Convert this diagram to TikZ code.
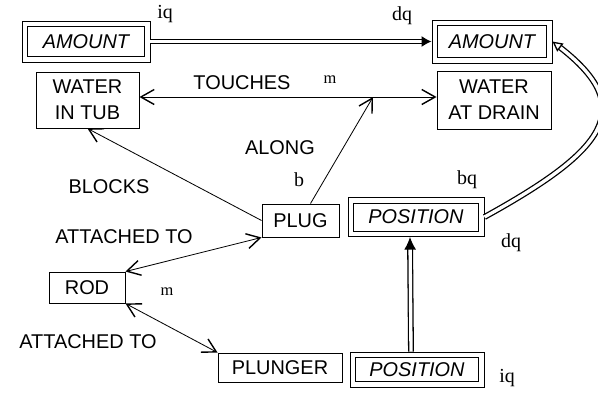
\documentclass[tikz,border=0pt]{standalone}
\usepackage{fontspec}
\setmainfont{Liberation Serif}
\setsansfont{Liberation Sans}
\usetikzlibrary{arrows.meta}

\begin{document}
\begin{tikzpicture}[
    x=0.03cm, y=-0.03cm,
    >={Straight Barb[length=0.4cm,width=0.45cm,line width=1.2pt]},
    ent/.style={rectangle, draw, line width=0.8pt, align=center, inner sep=2pt, font=\sffamily\fontsize{17}{22}\selectfont},
    qty/.style={rectangle, draw, line width=0.8pt, inner sep=2pt, font=\sffamily\itshape\fontsize{17}{22}\selectfont},
    inbox/.style={line width=0.8pt},
    rel/.style={font=\sffamily\fontsize{17}{22}\selectfont},
    tag/.style={font=\rmfamily\fontsize{17}{20}\selectfont},
    link/.style={line width=0.7pt},
    infl/.style={double, double distance=0.1cm, line width=1.1pt}
]
\useasboundingbox (0,0) rectangle (598,393);

% Quantities
\node[qty, minimum width=3.84cm, minimum height=1.23cm] (amtL) at (86,41.5) {AMOUNT};
\node[qty, minimum width=3.6cm, minimum height=1.29cm] (amtR) at (492,41.5) {AMOUNT};
\node[qty, minimum width=4.08cm, minimum height=1.17cm] (posT) at (416,217) {POSITION};
\node[qty, minimum width=4.02cm, minimum height=1.05cm] (posB) at (417,369.5) {POSITION};
\foreach \q in {amtL,amtR,posT,posB}
    \draw[inbox] ([xshift=0.19cm,yshift=0.18cm]\q.south west) rectangle ([xshift=-0.19cm,yshift=-0.18cm]\q.north east);

% Entities
\node[ent, minimum width=3.09cm, minimum height=1.68cm] (tub) at (87.5,100) {WATER\\IN TUB};
\node[ent, minimum width=3.42cm, minimum height=1.74cm] (drain) at (494,100) {WATER\\AT DRAIN};
\node[ent, minimum width=2.31cm, minimum height=0.99cm] (plug) at (300.5,220.5) {PLUG};
\node[ent, minimum width=2.28cm, minimum height=0.93cm] (rod) at (87,287.5) {ROD};
\node[ent, minimum width=3.72cm, minimum height=0.87cm] (plunger) at (280,367.5) {PLUNGER};

\coordinate (along) at (373,97);

% Relations
\draw[link, <->] (tub.east |- along) -- (drain.west |- along);
\draw[link, ->] ([xshift=0.3cm]plug.north) -- (along);
\draw[link, ->] (plug.west) -- (tub.south);
\draw[link, <->] (plug.south west) -- (rod.north east);
\draw[link, <->] (rod.south east) -- (plunger.north west);

% Influences
\draw[infl, -{Latex[length=0.3cm,width=0.33cm]}] (amtL.east) -- (amtR.west);
\draw[infl, -{Latex[length=0.38cm,width=0.36cm]}] ([xshift=-0.18cm]posB.north) -- ([xshift=-0.18cm]posT.south);
\draw[infl, -{Triangle[open,length=0.3cm,width=0.3cm]}] (posT.east) .. controls (606,150) and (638,108) .. (amtR.east);

% Labels
\node[tag] (iqA) at (165,14) {iq};
\node[tag] (dqA) at (402,16) {dq};
\node[rel] (touches) at (242,83) {TOUCHES};
\node[tag, font=\rmfamily\fontsize{14}{16}\selectfont] (mA) at (330,80) {m};
\node[rel] (alongL) at (280,148) {ALONG};
\node[tag] (bL) at (299,180) {b};
\node[rel] (blocks) at (109,187) {BLOCKS};
\node[tag] (bqP) at (467,180) {bq};
\node[tag] (dqP) at (511,243) {dq};
\node[rel] (att1) at (124,237) {ATTACHED TO};
\node[tag, font=\rmfamily\fontsize{14}{16}\selectfont] (mB) at (167,292) {m};
\node[rel] (att2) at (88,342) {ATTACHED TO};
\node[tag] (iqP) at (507,378) {iq};
\end{tikzpicture}
\end{document}
